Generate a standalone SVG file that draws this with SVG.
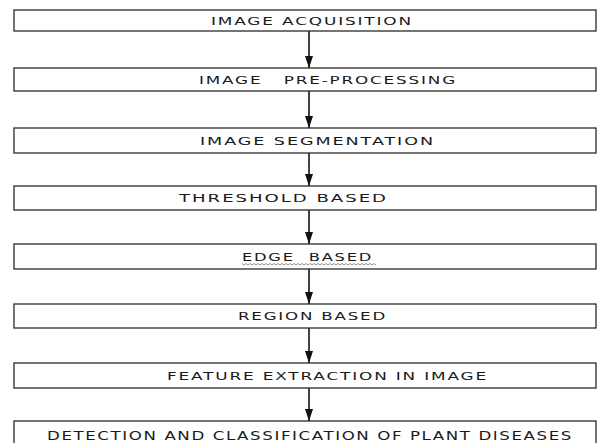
<svg xmlns="http://www.w3.org/2000/svg" width="597" height="443" viewBox="0 0 597 443">
  <style>
    .box { fill: #ffffff; stroke: #2a2a2a; stroke-width: 1.3; }
    .lbl { font-family: "DejaVu Sans", "Liberation Sans", sans-serif; font-size: 11px; fill: #1a1a1a; letter-spacing: 1.2px; }
    .big { font-size: 12.5px; }
    .conn { stroke: #111; stroke-width: 1.6; fill: none; }
  </style>
  <defs>
    <marker id="arr" viewBox="0 0 12 8" refX="12" refY="4" markerWidth="12" markerHeight="8" markerUnits="userSpaceOnUse" orient="auto">
      <path d="M0,0 L12,4 L0,8 Z" fill="#111"/>
    </marker>
  </defs>
  <rect x="0" y="0" width="597" height="443" fill="#ffffff"/>

  <g id="connectors">
    <line class="conn" x1="309" y1="31" x2="309" y2="68" marker-end="url(#arr)"/>
    <line class="conn" x1="309" y1="91" x2="309" y2="128" marker-end="url(#arr)"/>
    <line class="conn" x1="309" y1="153" x2="309" y2="186" marker-end="url(#arr)"/>
    <line class="conn" x1="309" y1="210" x2="309" y2="244" marker-end="url(#arr)"/>
    <line class="conn" x1="309" y1="269" x2="309" y2="304" marker-end="url(#arr)"/>
    <line class="conn" x1="309" y1="328" x2="309" y2="363" marker-end="url(#arr)"/>
    <line class="conn" x1="309" y1="388" x2="309" y2="421" marker-end="url(#arr)"/>
  </g>

  <g id="n1">
    <rect class="box" x="14" y="10" width="582" height="21"/>
    <text class="lbl" x="211" y="25" textLength="202" lengthAdjust="spacingAndGlyphs">IMAGE ACQUISITION</text>
  </g>
  <g id="n2">
    <rect class="box" x="14" y="68" width="582" height="23"/>
    <text class="lbl" x="199" y="83.5" textLength="258" lengthAdjust="spacingAndGlyphs" xml:space="preserve">IMAGE   PRE-PROCESSING</text>
  </g>
  <g id="n3">
    <rect class="box" x="14" y="128" width="582" height="25"/>
    <text class="lbl" x="200" y="144.5" textLength="235" lengthAdjust="spacingAndGlyphs">IMAGE SEGMENTATION</text>
  </g>
  <g id="n4">
    <rect class="box" x="14" y="186" width="582" height="24"/>
    <text class="lbl" x="179" y="202" textLength="209" lengthAdjust="spacingAndGlyphs">THRESHOLD BASED</text>
  </g>
  <g id="n5">
    <rect class="box" x="14" y="244" width="582" height="25"/>
    <text class="lbl" x="242" y="260.5" textLength="131" lengthAdjust="spacingAndGlyphs" xml:space="preserve">EDGE  BASED</text>
    <path d="M242,263.5 l2,1.5 l2,-1.5 l2,1.5 l2,-1.5 l2,1.5 l2,-1.5 l2,1.5 l2,-1.5 l2,1.5 l2,-1.5 l2,1.5 l2,-1.5 l2,1.5 l2,-1.5 l2,1.5 l2,-1.5 l2,1.5 l2,-1.5 l2,1.5 l2,-1.5 l2,1.5 l2,-1.5 l2,1.5 l2,-1.5 l2,1.5 l2,-1.5 l2,1.5 l2,-1.5 l2,1.5 l2,-1.5 l2,1.5 l2,-1.5 l2,1.5 l2,-1.5 l2,1.5 l2,-1.5 l2,1.5 l2,-1.5 l2,1.5 l2,-1.5 l2,1.5 l2,-1.5 l2,1.5 l2,-1.5 l2,1.5 l2,-1.5 l2,1.5 l2,-1.5 l2,1.5 l2,-1.5 l2,1.5 l2,-1.5 l2,1.5 l2,-1.5 l2,1.5 l2,-1.5 l2,1.5 l2,-1.5 l2,1.5 l2,-1.5 l2,1.5 l2,-1.5 l2,1.5 l2,-1.5 l2,1.5 l2,-1.5 l2,1.5" fill="none" stroke="#777" stroke-width="0.8"/>
  </g>
  <g id="n6">
    <rect class="box" x="14" y="304" width="582" height="24"/>
    <text class="lbl" x="238" y="320" textLength="149" lengthAdjust="spacingAndGlyphs">REGION BASED</text>
  </g>
  <g id="n7">
    <rect class="box" x="14" y="363" width="582" height="25"/>
    <text class="lbl" x="167" y="379.5" textLength="321" lengthAdjust="spacingAndGlyphs">FEATURE EXTRACTION IN IMAGE</text>
  </g>
  <g id="n8">
    <rect class="box" x="14" y="421" width="582" height="30"/>
    <text class="lbl big" x="47" y="440" textLength="526" lengthAdjust="spacingAndGlyphs">DETECTION AND CLASSIFICATION OF PLANT DISEASES</text>
  </g>
</svg>
